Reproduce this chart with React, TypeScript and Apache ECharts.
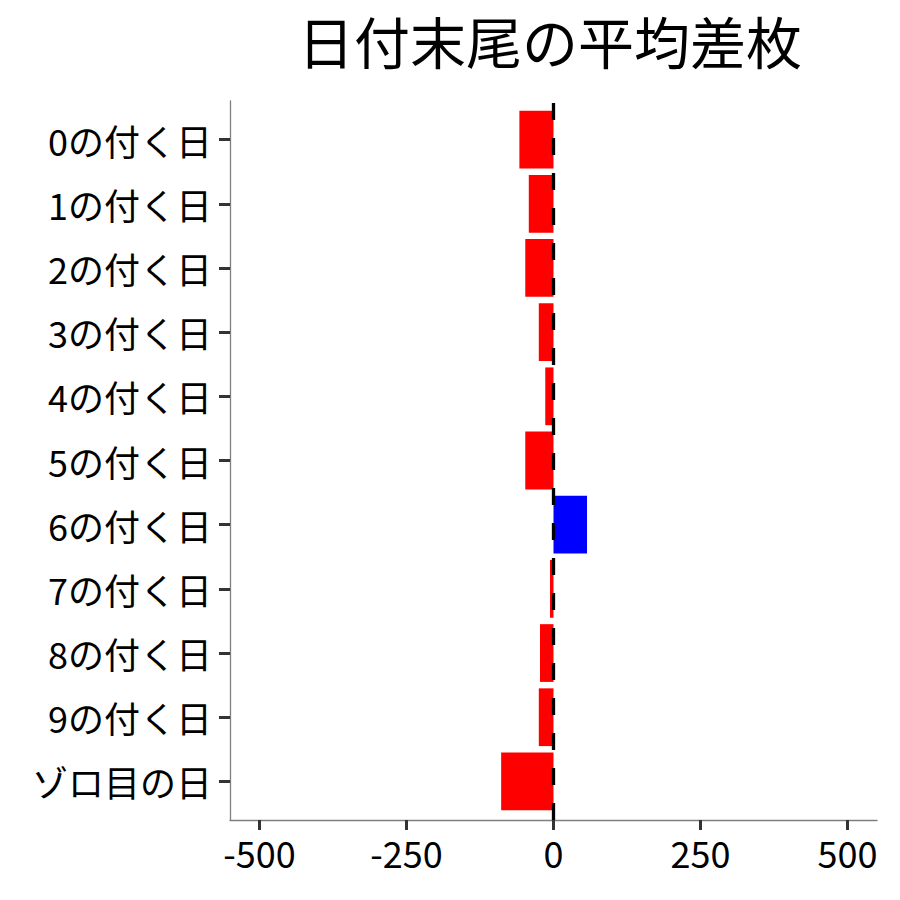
import React, { useEffect, useRef } from 'react';
import * as echarts from 'echarts';

const categories = [
  '0の付く日',
  '1の付く日',
  '2の付く日',
  '3の付く日',
  '4の付く日',
  '5の付く日',
  '6の付く日',
  '7の付く日',
  '8の付く日',
  '9の付く日',
  'ゾロ目の日',
];
const diffValues = [-58, -42, -48, -25, -14, -48, 57, -6, -23, -25, -89];
const xTicks = [-500, -250, 0, 250, 500];
const xMin = -550;
const xMax = 550;
const zeroLine = [0];

const FONT = '"Noto Sans CJK JP", "Noto Sans", sans-serif';

const App: React.FC = () => {
  const chartRef = useRef<HTMLDivElement | null>(null);

  useEffect(() => {
    document.body.style.margin = '0';
    if (!chartRef.current) return;
    const chart = echarts.init(chartRef.current, undefined, { renderer: 'svg' });

    const option: echarts.EChartsOption = {
      animation: false,
      backgroundColor: '#ffffff',
      title: {
        text: '日付末尾の平均差枚',
        left: 545,
        textAlign: 'center',
        top: 6,
        textStyle: { fontSize: 56, fontWeight: 'normal', color: '#000', fontFamily: FONT },
      },
      grid: [
        // bars (band height as in ggplot, 0.6 expansion)
        { left: 230, right: 23, top: 107.5, height: 706 },
        // axis frame
        { left: 230, right: 23, top: 101, height: 719 },
      ],
      xAxis: [
        { gridIndex: 0, type: 'value', min: xMin, max: xMax, show: false },
        {
          gridIndex: 1,
          type: 'value',
          min: xMin,
          max: xMax,
          axisLine: { show: true, onZero: false, lineStyle: { color: '#7f7f7f', width: 1.3 } },
          axisTick: {
            show: true,
            customValues: xTicks,
            length: 10,
            lineStyle: { color: '#333', width: 3 },
          },
          axisLabel: {
            customValues: xTicks,
            fontSize: 36,
            color: '#000',
            margin: 14,
            fontFamily: FONT,
          },
          splitLine: { show: false },
        },
      ],
      yAxis: [
        {
          gridIndex: 0,
          type: 'category',
          data: categories,
          inverse: true,
          axisLine: { show: false, onZero: false },
          axisTick: {
            show: true,
            alignWithLabel: true,
            length: 11,
            lineStyle: { color: '#333', width: 3 },
          },
          axisLabel: { fontSize: 36, color: '#000', margin: 18, fontFamily: FONT },
        },
        {
          gridIndex: 1,
          type: 'value',
          min: 0,
          max: 1,
          axisLine: { show: true, onZero: false, lineStyle: { color: '#7f7f7f', width: 1.3 } },
          axisTick: { show: false },
          axisLabel: { show: false },
          splitLine: { show: false },
        },
      ],
      series: [
        {
          type: 'bar',
          xAxisIndex: 0,
          yAxisIndex: 0,
          barCategoryGap: '10%',
          data: diffValues.map((v) => ({
            value: v,
            itemStyle: { color: v >= 0 ? '#0000ff' : '#ff0000' },
          })),
        },
        {
          type: 'scatter',
          xAxisIndex: 1,
          yAxisIndex: 1,
          data: [],
          z: 10,
          markLine: {
            silent: true,
            symbol: 'none',
            label: { show: false },
            lineStyle: { color: '#000', width: 3.3, type: [17, 18] },
            data: zeroLine.map((x) => ({ xAxis: x })),
          },
        },
      ],
    };

    chart.setOption(option);

    return () => {
      chart.dispose();
    };
  }, []);

  return <div ref={chartRef} style={{ width: '900px', height: '900px' }} />;
};

export default App;
